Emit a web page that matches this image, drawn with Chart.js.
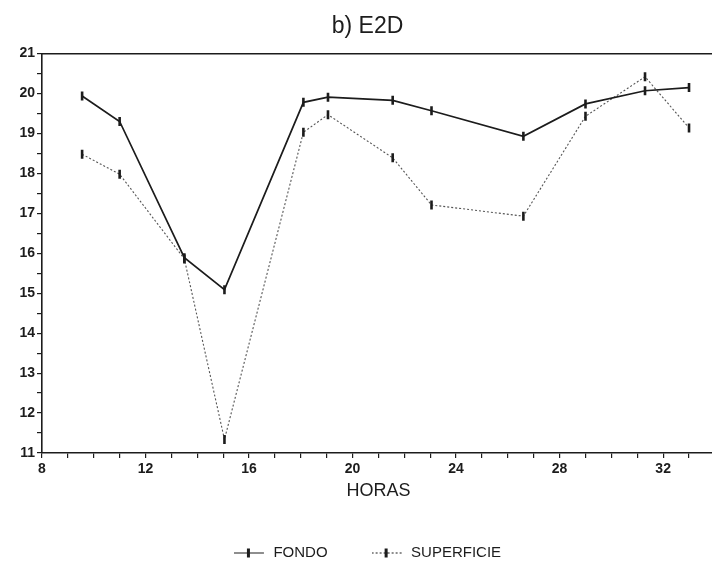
<!DOCTYPE html>
<html>
<head>
<meta charset="utf-8">
<script src="https://cdn.jsdelivr.net/npm/chart.js@4/dist/chart.umd.min.js"></script>
<style>
  html, body { margin: 0; padding: 0; background: #fff; overflow: hidden; }
  #wrap { width: 712px; height: 563px; overflow: hidden; }
</style>
</head>
<body>
<div id="wrap"><canvas id="chart" width="722" height="570"></canvas></div>
<script>
// values
const horas = [9.55, 11.0, 13.5, 15.05, 18.1, 19.05, 21.55, 23.05, 26.6, 29.0, 31.3, 33.0];
const fondo = [19.94, 19.30, 15.89, 15.09, 19.78, 19.91, 19.83, 19.57, 18.93, 19.74, 20.07, 20.15];
const superficie = [18.48, 17.98, 15.86, 11.34, 19.03, 19.47, 18.39, 17.21, 16.93, 19.43, 20.42, 19.14];
const xLabels = [8, 12, 16, 20, 24, 28, 32];
const yLabels = [11, 12, 13, 14, 15, 16, 17, 18, 19, 20, 21];

const ink = '#1c1c1c';
const fontName = '"Liberation Sans", Arial, Helvetica, sans-serif';

const toPoints = (ys) => horas.map((h, i) => ({ x: h, y: ys[i] }));

// little legend symbols: a line with a tick in the middle
const legendIcon = (dash) => {
  const c = document.createElement('canvas');
  c.width = 32; c.height = 12;
  const g = c.getContext('2d');
  g.strokeStyle = ink;
  g.lineWidth = 1;
  g.setLineDash(dash);
  g.beginPath(); g.moveTo(0, 6.5); g.lineTo(30, 6.5); g.stroke();
  g.setLineDash([]);
  g.lineWidth = 3;
  g.beginPath(); g.moveTo(14.5, 2); g.lineTo(14.5, 11); g.stroke();
  return c;
};
const icons = [legendIcon([]), legendIcon([2, 2])];

const ctx = document.getElementById('chart');
new Chart(ctx, {
  type: 'line',
  data: {
    datasets: [{
      label: 'FONDO',
      data: toPoints(fondo),
      borderColor: ink,
      borderWidth: 1.7,
      pointStyle: 'line',
      pointRotation: 90,
      pointRadius: 4.5,
      pointBorderWidth: 2.6,
      pointBorderColor: ink,
      tension: 0,
      order: 1
    }, {
      label: 'SUPERFICIE',
      data: toPoints(superficie),
      borderColor: '#555',
      borderWidth: 1.1,
      borderDash: [2, 2],
      pointStyle: 'line',
      pointRotation: 90,
      pointRadius: 4.5,
      pointBorderWidth: 2.6,
      pointBorderColor: ink,
      tension: 0,
      order: 2
    }]
  },
  options: {
    responsive: false,
    animation: false,
    layout: { padding: { left: 14, right: 1, top: 0, bottom: 0 } },
    plugins: {
      title: {
        display: true,
        text: 'b) E2D',
        color: ink,
        font: { family: fontName, size: 23, weight: 'normal' },
        padding: { top: 13, bottom: 13 }
      },
      legend: {
        position: 'bottom',
        labels: {
          color: ink,
          font: { family: fontName, size: 15 },
          usePointStyle: true,
          pointStyleWidth: 32,
          padding: 44,
          generateLabels: (chart) => Chart.defaults.plugins.legend.labels.generateLabels(chart)
            .map((item, i) => ({ ...item, pointStyle: icons[i], rotation: 0 }))
        }
      },
      tooltip: { enabled: false }
    },
    scales: {
      x: {
        type: 'linear',
        min: 8,
        max: 34,
        afterFit: (scale) => { scale.height = 48; },
        ticks: {
          stepSize: 1,
          autoSkip: false,
          maxRotation: 0,
          padding: 3,
          color: ink,
          font: { family: fontName, size: 14, weight: 'bold' },
          callback: (v) => xLabels.includes(v) ? String(v) : ''
        },
        grid: { drawOnChartArea: false, drawTicks: true, tickLength: 5, color: ink, lineWidth: 1.2 },
        border: { display: true, color: ink, width: 1.6 },
        title: {
          display: true,
          text: 'HORAS',
          color: ink,
          font: { family: fontName, size: 18, lineHeight: 1 },
          padding: { top: 0, bottom: 1 }
        }
      },
      xTop: {
        type: 'linear',
        position: 'top',
        min: 8,
        max: 34,
        ticks: { display: false },
        grid: { display: false, drawTicks: false },
        border: { display: true, color: ink, width: 1.6 }
      },
      y: {
        min: 11,
        max: 21,
        afterFit: (scale) => { scale.width = 28; },
        ticks: {
          stepSize: 0.5,
          autoSkip: false,
          padding: 2,
          color: ink,
          font: { family: fontName, size: 14, weight: 'bold' },
          callback: (v) => yLabels.includes(v) ? String(v) : ''
        },
        grid: { drawOnChartArea: false, drawTicks: true, tickLength: 5, color: ink, lineWidth: 1.2 },
        border: { display: true, color: ink, width: 1.6 }
      }
    }
  }
});
</script>
</body>
</html>
